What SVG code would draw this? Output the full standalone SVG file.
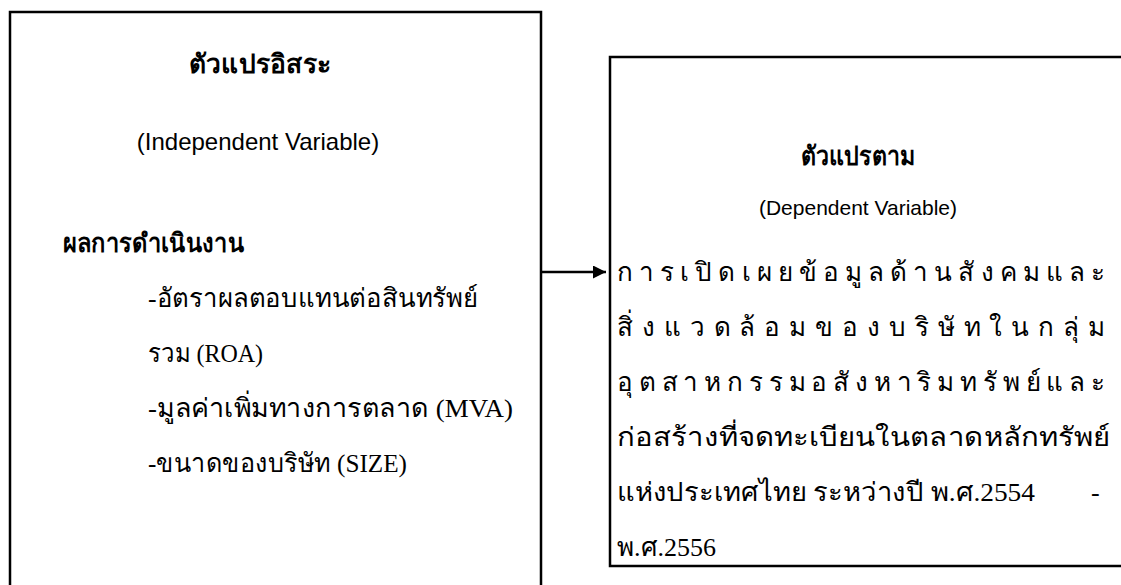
<svg xmlns="http://www.w3.org/2000/svg" width="1121" height="585" viewBox="0 0 1121 585">
<style>
.box{fill:none;stroke:#000;stroke-width:2.5}
.hd{font-family:"Liberation Sans","Noto Sans",sans-serif;font-weight:bold;font-size:26px;fill:#000}
.en{font-family:"Liberation Sans",Arial,sans-serif;font-size:24px;fill:#000}
.en2{font-family:"Liberation Sans",Arial,sans-serif;font-size:21px;fill:#000}
.th{font-family:"Liberation Serif","Noto Serif",serif;font-size:26px;fill:#000}
</style>
<defs>
<marker id="ah" markerWidth="13" markerHeight="13" refX="13" refY="6.5" orient="auto" markerUnits="userSpaceOnUse">
<path d="M0,0 L13,6.5 L0,13 Z" fill="#000"/>
</marker>
</defs>
<rect width="1121" height="585" fill="#fff"/>
<g id="connectors">
<line x1="541" y1="272" x2="606" y2="272" stroke="#000" stroke-width="2.5" marker-end="url(#ah)"/>
</g>
<g id="independent">
<path class="box" d="M10,590 V12 H541 V590"/>
<text class="hd" x="260" y="73" text-anchor="middle" textLength="142" lengthAdjust="spacingAndGlyphs">ตัวแปรอิสระ</text>
<text class="en" x="258" y="150" text-anchor="middle">(Independent Variable)</text>
<text class="hd" x="63" y="252" textLength="181" lengthAdjust="spacingAndGlyphs">ผลการดำเนินงาน</text>
<text class="th" x="148" y="307" textLength="330" lengthAdjust="spacingAndGlyphs">-อัตราผลตอบแทนต่อสินทรัพย์</text>
<text class="th" x="148" y="362" textLength="115" lengthAdjust="spacingAndGlyphs">รวม (ROA)</text>
<text class="th" x="148" y="417" textLength="365" lengthAdjust="spacingAndGlyphs">-มูลค่าเพิ่มทางการตลาด (MVA)</text>
<text class="th" x="148" y="472" textLength="259" lengthAdjust="spacingAndGlyphs">-ขนาดของบริษัท (SIZE)</text>
</g>
<g id="dependent">
<path class="box" d="M1130,57 H610 V566 H1130"/>
<text class="hd" x="858" y="165" text-anchor="middle" textLength="115" lengthAdjust="spacingAndGlyphs">ตัวแปรตาม</text>
<text class="en2" x="858" y="215" text-anchor="middle">(Dependent Variable)</text>
<text class="th" x="617" y="281" textLength="488" lengthAdjust="spacing">การเปิดเผยข้อมูลด้านสังคมและ</text>
<text class="th" x="617" y="336" textLength="488" lengthAdjust="spacing">สิ่งแวดล้อมของบริษัทในกลุ่ม</text>
<text class="th" x="617" y="391" textLength="488" lengthAdjust="spacing">อุตสาหกรรมอสังหาริมทรัพย์และ</text>
<text class="th" x="617" y="446" textLength="493" lengthAdjust="spacingAndGlyphs">ก่อสร้างที่จดทะเบียนในตลาดหลักทรัพย์</text>
<text class="th" x="617" y="501"><tspan textLength="418" lengthAdjust="spacingAndGlyphs">แห่งประเทศไทย ระหว่างปี พ.ศ.2554</tspan><tspan x="1091">-</tspan></text>
<text class="th" x="617" y="556">พ.ศ.2556</text>
</g>
</svg>
